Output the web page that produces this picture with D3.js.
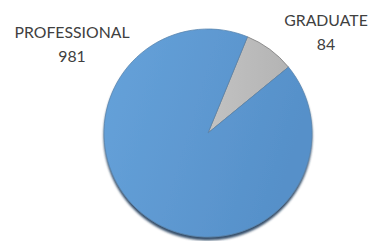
<!DOCTYPE html>
<html><head><meta charset="utf-8">
<script src="https://cdn.jsdelivr.net/npm/d3@7"></script>
<style>html,body{margin:0;padding:0;background:#fff;overflow:hidden}</style>
</head><body>
<svg id="c" width="372" height="241"></svg>
<script>
const categories = ["GRADUATE", "PROFESSIONAL"];
const values = [84, 981];
const colors = ["#bababa", "#5b9bd5"];

const svg = d3.select("#c");
const cx = 208, cy = 133, r = 104;
const defs = svg.append("defs");
const g1 = defs.append("linearGradient").attr("id","blueG").attr("x1","0").attr("y1","0").attr("x2","1").attr("y2","0.3");
g1.append("stop").attr("offset","0").attr("stop-color","#66a2da");
g1.append("stop").attr("offset","1").attr("stop-color","#5690c9");
const g2 = defs.append("linearGradient").attr("id","grayG").attr("x1","0").attr("y1","0").attr("x2","1").attr("y2","0");
g2.append("stop").attr("offset","0").attr("stop-color","#c2c2c2");
g2.append("stop").attr("offset","1").attr("stop-color","#b4b4b4");
const f = defs.append("filter").attr("id","sh").attr("x","-20%").attr("y","-20%").attr("width","140%").attr("height","140%");
f.append("feGaussianBlur").attr("in","SourceAlpha").attr("stdDeviation","1.2");
f.append("feOffset").attr("dx","0").attr("dy","3").attr("result","b");
f.append("feFlood").attr("flood-color","#1f3b5a").attr("flood-opacity","0.9");
f.append("feComposite").attr("in2","b").attr("operator","in");
const m = f.append("feMerge");
m.append("feMergeNode");
m.append("feMergeNode").attr("in","SourceGraphic");

const pie = d3.pie().sort(null).startAngle(22.3*Math.PI/180).endAngle(22.3*Math.PI/180 + 2*Math.PI);
const arcs = pie(values);
const arc = d3.arc().innerRadius(0).outerRadius(r);
const gp = svg.append("g").attr("transform",`translate(${cx},${cy})`).attr("filter","url(#sh)");
gp.selectAll("path").data(arcs).join("path")
  .attr("d", arc)
  .attr("fill", (d,i)=> i===0 ? "url(#grayG)" : "url(#blueG)")
  .attr("stroke", (d,i)=> i===0 ? "#7a7a7a" : "#5a86b0")
  .attr("stroke-width", 0.8)
  .attr("stroke-linejoin","round");

const labelPos = [[326, 26, 50], [72, 38, 62]];
const lg = svg.append("g").attr("font-family","Lato, 'Open Sans', sans-serif").attr("font-size","15.8px").attr("fill","#404040").attr("text-anchor","middle");
categories.forEach((c,i)=>{
  lg.append("text").attr("x",labelPos[i][0]).attr("y",labelPos[i][1]).text(c);
  lg.append("text").attr("x",labelPos[i][0]).attr("y",labelPos[i][2]).text(values[i]);
});
</script>
</body></html>
